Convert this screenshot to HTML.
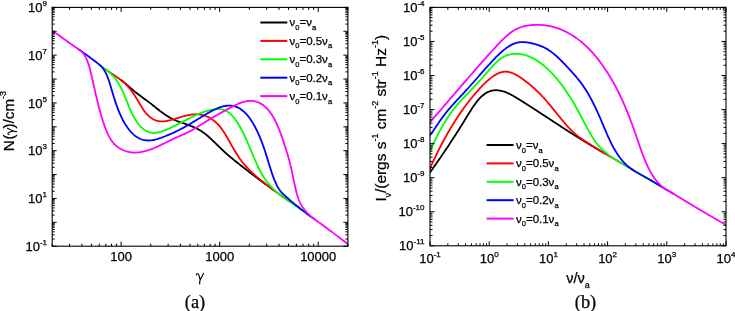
<!DOCTYPE html><html><head><meta charset="utf-8"><style>html,body{margin:0;padding:0;background:#fff;}svg{display:block;will-change:transform}text{font-family:"Liberation Sans",sans-serif;fill:#000;stroke:#000;stroke-width:0.25px}</style></head><body>
<svg width="735" height="311" viewBox="0 0 735 311">
<defs><clipPath id="cl"><rect x="52.20" y="6.40" width="295.70" height="239.80"/></clipPath>
<clipPath id="cr"><rect x="430.00" y="6.40" width="296.00" height="239.40"/></clipPath></defs>
<g clip-path="url(#cl)" fill="none" stroke-width="1.8" stroke-linejoin="round" stroke-linecap="round">
<path stroke="#000000" d="M121.20 80.24 L121.87 80.74 L122.53 81.26 L123.20 81.78 L123.87 82.32 L124.53 82.86 L125.20 83.41 L125.86 83.97 L126.53 84.53 L127.20 85.10 L127.86 85.68 L128.53 86.25 L129.20 86.83 L129.86 87.41 L130.53 87.98 L131.20 88.56 L131.86 89.13 L132.53 89.70 L133.19 90.27 L133.86 90.83 L134.53 91.38 L135.19 91.93 L135.86 92.47 L136.53 93.00 L137.19 93.52 L137.86 94.03 L138.53 94.54 L139.19 95.04 L139.86 95.54 L140.52 96.03 L141.19 96.52 L141.86 97.00 L142.52 97.49 L143.19 97.97 L143.86 98.45 L144.52 98.93 L145.19 99.41 L145.86 99.90 L146.52 100.38 L147.19 100.87 L147.86 101.36 L148.52 101.86 L149.19 102.36 L149.85 102.86 L150.52 103.37 L151.19 103.89 L151.85 104.42 L152.52 104.95 L153.19 105.49 L153.85 106.03 L154.52 106.57 L155.19 107.11 L155.85 107.65 L156.52 108.19 L157.18 108.73 L157.85 109.27 L158.52 109.80 L159.18 110.32 L159.85 110.84 L160.52 111.35 L161.18 111.85 L161.85 112.34 L162.52 112.83 L163.18 113.30 L163.85 113.77 L164.51 114.23 L165.18 114.68 L165.85 115.12 L166.51 115.56 L167.18 115.98 L167.85 116.39 L168.51 116.79 L169.18 117.18 L169.85 117.56 L170.51 117.93 L171.18 118.29 L171.84 118.64 L172.51 118.97 L173.18 119.29 L173.84 119.61 L174.51 119.91 L175.18 120.20 L175.84 120.49 L176.51 120.77 L177.18 121.03 L177.84 121.30 L178.51 121.55 L179.17 121.80 L179.84 122.05 L180.51 122.29 L181.17 122.53 L181.84 122.76 L182.51 122.99 L183.17 123.22 L183.84 123.45 L184.51 123.68 L185.17 123.91 L185.84 124.14 L186.50 124.37 L187.17 124.60 L187.84 124.83 L188.50 125.07 L189.17 125.31 L189.84 125.56 L190.50 125.81 L191.17 126.07 L191.84 126.33 L192.50 126.60 L193.17 126.88 L193.83 127.16 L194.50 127.46 L195.17 127.76 L195.83 128.07 L196.50 128.40 L197.17 128.73 L197.83 129.08 L198.50 129.44 L199.17 129.81 L199.83 130.20 L200.50 130.60 L201.17 131.02 L201.83 131.45 L202.50 131.90 L203.16 132.37 L203.83 132.85 L204.50 133.35 L205.16 133.86 L205.83 134.39 L206.50 134.93 L207.16 135.49 L207.83 136.06 L208.50 136.64 L209.16 137.23 L209.83 137.83 L210.49 138.43 L211.16 139.05 L211.83 139.68 L212.49 140.31 L213.16 140.94 L213.83 141.59 L214.49 142.23 L215.16 142.88 L215.83 143.53 L216.49 144.19 L217.16 144.84 L217.82 145.50 L218.49 146.15 L219.16 146.81 L219.82 147.46 L220.49 148.11 L221.16 148.75 L221.82 149.39 L222.49 150.02 L223.16 150.65 L223.82 151.27 L224.49 151.89 L225.15 152.49 L225.82 153.09 L226.49 153.69 L227.15 154.27 L227.82 154.86 L228.49 155.43 L229.15 156.00 L229.82 156.57 L230.49 157.13 L231.15 157.68 L231.82 158.24 L232.48 158.78 L233.15 159.33 L233.82 159.87 L234.48 160.41 L235.15 160.95 L235.82 161.49 L236.48 162.02 L237.15 162.55 L237.82 163.08 L238.48 163.61 L239.15 164.14 L239.81 164.67 L240.48 165.20 L241.15 165.72 L241.81 166.24 L242.48 166.77 L243.15 167.29 L243.81 167.81 L244.48 168.33 L245.15 168.84 L245.81 169.36 L246.48 169.88 L247.14 170.39 L247.81 170.90 L248.48 171.42 L249.14 171.93 L249.81 172.44 L250.48 172.95 L251.14 173.45 L251.81 173.96 L252.48 174.47 L253.14 174.97 L253.81 175.48 L254.48 175.98 L255.14 176.48 L255.81 176.98 L256.47 177.48 L257.14 177.98 L257.81 178.48 L258.47 178.98 L259.14 179.47 L259.81 179.97 L260.47 180.47 L261.14 180.96 L261.81 181.45 L262.47 181.95 L263.14 182.44 L263.80 182.93 L264.47 183.42 L265.14 183.91 L265.80 184.40 L266.47 184.89 L267.14 185.37 L267.80 185.86 L268.47 186.35 L269.14 186.83 L269.80 187.32 L270.47 187.80 L271.13 188.28 L271.80 188.77 L272.47 189.25 L273.13 189.73 L273.80 190.21"/>
<path stroke="#ff0000" d="M105.20 69.13 L105.87 69.60 L106.53 70.07 L107.20 70.54 L107.86 71.00 L108.53 71.45 L109.19 71.91 L109.86 72.36 L110.52 72.81 L111.19 73.26 L111.85 73.70 L112.52 74.15 L113.18 74.60 L113.85 75.05 L114.51 75.50 L115.18 75.95 L115.84 76.40 L116.51 76.86 L117.17 77.32 L117.84 77.79 L118.50 78.26 L119.17 78.74 L119.84 79.22 L120.50 79.71 L121.17 80.21 L121.83 80.72 L122.50 81.23 L123.16 81.76 L123.83 82.33 L124.49 82.93 L125.16 83.57 L125.82 84.25 L126.49 84.97 L127.15 85.68 L127.82 86.40 L128.48 87.14 L129.15 87.91 L129.81 88.71 L130.48 89.53 L131.14 90.39 L131.81 91.27 L132.47 92.19 L133.14 93.14 L133.81 94.12 L134.47 95.13 L135.14 96.18 L135.80 97.25 L136.47 98.34 L137.13 99.45 L137.80 100.57 L138.46 101.69 L139.13 102.82 L139.79 103.93 L140.46 105.04 L141.12 106.13 L141.79 107.19 L142.45 108.23 L143.12 109.24 L143.78 110.21 L144.45 111.13 L145.11 112.01 L145.78 112.84 L146.44 113.62 L147.11 114.36 L147.77 115.06 L148.44 115.71 L149.11 116.32 L149.77 116.89 L150.44 117.42 L151.10 117.91 L151.77 118.36 L152.43 118.78 L153.10 119.16 L153.76 119.51 L154.43 119.83 L155.09 120.11 L155.76 120.36 L156.42 120.58 L157.09 120.78 L157.75 120.94 L158.42 121.08 L159.08 121.19 L159.75 121.28 L160.41 121.34 L161.08 121.38 L161.74 121.40 L162.41 121.40 L163.08 121.38 L163.74 121.34 L164.41 121.28 L165.07 121.20 L165.74 121.11 L166.40 121.01 L167.07 120.89 L167.73 120.76 L168.40 120.62 L169.06 120.47 L169.73 120.31 L170.39 120.15 L171.06 119.97 L171.72 119.79 L172.39 119.60 L173.05 119.41 L173.72 119.22 L174.38 119.02 L175.05 118.83 L175.71 118.62 L176.38 118.42 L177.05 118.22 L177.71 118.02 L178.38 117.81 L179.04 117.61 L179.71 117.41 L180.37 117.21 L181.04 117.01 L181.70 116.81 L182.37 116.62 L183.03 116.44 L183.70 116.25 L184.36 116.07 L185.03 115.90 L185.69 115.73 L186.36 115.57 L187.02 115.42 L187.69 115.27 L188.35 115.13 L189.02 115.01 L189.68 114.88 L190.35 114.77 L191.02 114.67 L191.68 114.58 L192.35 114.51 L193.01 114.44 L193.68 114.38 L194.34 114.34 L195.01 114.31 L195.67 114.30 L196.34 114.30 L197.00 114.31 L197.67 114.34 L198.33 114.39 L199.00 114.45 L199.66 114.52 L200.33 114.62 L200.99 114.73 L201.66 114.85 L202.32 115.00 L202.99 115.16 L203.65 115.34 L204.32 115.54 L204.98 115.76 L205.65 116.00 L206.32 116.25 L206.98 116.53 L207.65 116.83 L208.31 117.14 L208.98 117.48 L209.64 117.84 L210.31 118.23 L210.97 118.63 L211.64 119.06 L212.30 119.51 L212.97 119.98 L213.63 120.48 L214.30 121.00 L214.96 121.55 L215.63 122.12 L216.29 122.71 L216.96 123.34 L217.62 124.00 L218.29 124.69 L218.95 125.42 L219.62 126.19 L220.29 127.00 L220.95 127.86 L221.62 128.76 L222.28 129.69 L222.95 130.67 L223.61 131.68 L224.28 132.72 L224.94 133.79 L225.61 134.88 L226.27 135.99 L226.94 137.13 L227.60 138.28 L228.27 139.44 L228.93 140.61 L229.60 141.78 L230.26 142.97 L230.93 144.15 L231.59 145.32 L232.26 146.50 L232.92 147.66 L233.59 148.81 L234.26 149.95 L234.92 151.07 L235.59 152.16 L236.25 153.24 L236.92 154.29 L237.58 155.31 L238.25 156.31 L238.91 157.29 L239.58 158.24 L240.24 159.18 L240.91 160.09 L241.57 160.98 L242.24 161.84 L242.90 162.69 L243.57 163.52 L244.23 164.33 L244.90 165.13 L245.56 165.90 L246.23 166.66 L246.89 167.40 L247.56 168.13 L248.23 168.84 L248.89 169.53 L249.56 170.21 L250.22 170.88 L250.89 171.54 L251.55 172.18 L252.22 172.81 L252.88 173.43 L253.55 174.04 L254.21 174.64 L254.88 175.23 L255.54 175.81 L256.21 176.38 L256.87 176.94 L257.54 177.50 L258.20 178.05 L258.87 178.60 L259.53 179.14 L260.20 179.67 L260.86 180.20 L261.53 180.73 L262.19 181.25 L262.86 181.77 L263.53 182.29 L264.19 182.81 L264.86 183.32 L265.52 183.84 L266.19 184.35 L266.85 184.86 L267.52 185.37 L268.18 185.88 L268.85 186.40 L269.51 186.93 L270.18 187.47 L270.84 188.00 L271.51 188.52 L272.17 189.03 L272.84 189.52 L273.50 190.00 L274.17 190.48 L274.83 190.96 L275.50 191.44 L276.16 191.92 L276.83 192.39 L277.50 192.87 L278.16 193.35 L278.83 193.83 L279.49 194.30 L280.16 194.78 L280.82 195.25 L281.49 195.73 L282.15 196.20 L282.82 196.68 L283.48 197.15 L284.15 197.63 L284.81 198.10 L285.48 198.58 L286.14 199.05 L286.81 199.52 L287.47 199.99 L288.14 200.47 L288.80 200.94 L289.47 201.41 L290.13 201.88 L290.80 202.36"/>
<path stroke="#00ff00" d="M99.20 64.54 L99.87 65.08 L100.53 65.61 L101.20 66.14 L101.87 66.65 L102.53 67.16 L103.20 67.67 L103.87 68.16 L104.53 68.65 L105.20 69.13 L105.86 69.60 L106.53 70.07 L107.20 70.53 L107.86 71.00 L108.53 71.52 L109.20 72.08 L109.86 72.68 L110.53 73.29 L111.20 73.92 L111.86 74.58 L112.53 75.28 L113.20 76.01 L113.86 76.78 L114.53 77.59 L115.19 78.44 L115.86 79.33 L116.53 80.27 L117.19 81.26 L117.86 82.30 L118.53 83.40 L119.19 84.54 L119.86 85.75 L120.53 87.02 L121.19 88.34 L121.86 89.73 L122.53 91.18 L123.19 92.68 L123.86 94.23 L124.53 95.80 L125.19 97.40 L125.86 99.02 L126.52 100.65 L127.19 102.28 L127.86 103.90 L128.52 105.51 L129.19 107.10 L129.86 108.66 L130.52 110.18 L131.19 111.65 L131.86 113.06 L132.52 114.42 L133.19 115.72 L133.86 116.96 L134.52 118.15 L135.19 119.28 L135.86 120.36 L136.52 121.38 L137.19 122.36 L137.85 123.28 L138.52 124.15 L139.19 124.97 L139.85 125.75 L140.52 126.47 L141.19 127.16 L141.85 127.79 L142.52 128.39 L143.19 128.94 L143.85 129.45 L144.52 129.92 L145.19 130.35 L145.85 130.74 L146.52 131.10 L147.18 131.42 L147.85 131.70 L148.52 131.95 L149.18 132.17 L149.85 132.35 L150.52 132.50 L151.18 132.63 L151.85 132.72 L152.52 132.79 L153.18 132.83 L153.85 132.84 L154.52 132.83 L155.18 132.80 L155.85 132.74 L156.52 132.66 L157.18 132.56 L157.85 132.44 L158.51 132.31 L159.18 132.15 L159.85 131.98 L160.51 131.80 L161.18 131.60 L161.85 131.38 L162.51 131.16 L163.18 130.92 L163.85 130.67 L164.51 130.42 L165.18 130.15 L165.85 129.88 L166.51 129.61 L167.18 129.33 L167.84 129.04 L168.51 128.75 L169.18 128.45 L169.84 128.15 L170.51 127.84 L171.18 127.53 L171.84 127.22 L172.51 126.90 L173.18 126.58 L173.84 126.25 L174.51 125.92 L175.18 125.59 L175.84 125.26 L176.51 124.92 L177.18 124.59 L177.84 124.25 L178.51 123.90 L179.17 123.56 L179.84 123.22 L180.51 122.87 L181.17 122.53 L181.84 122.18 L182.51 121.83 L183.17 121.49 L183.84 121.14 L184.51 120.79 L185.17 120.45 L185.84 120.10 L186.51 119.76 L187.17 119.42 L187.84 119.08 L188.51 118.74 L189.17 118.40 L189.84 118.06 L190.50 117.73 L191.17 117.40 L191.84 117.07 L192.50 116.75 L193.17 116.43 L193.84 116.11 L194.50 115.80 L195.17 115.49 L195.84 115.18 L196.50 114.88 L197.17 114.58 L197.84 114.29 L198.50 114.01 L199.17 113.73 L199.83 113.45 L200.50 113.18 L201.17 112.92 L201.83 112.66 L202.50 112.41 L203.17 112.17 L203.83 111.93 L204.50 111.70 L205.17 111.48 L205.83 111.26 L206.50 111.06 L207.17 110.86 L207.83 110.67 L208.50 110.49 L209.17 110.31 L209.83 110.15 L210.50 110.00 L211.16 109.85 L211.83 109.71 L212.50 109.59 L213.16 109.47 L213.83 109.37 L214.50 109.28 L215.16 109.20 L215.83 109.14 L216.50 109.09 L217.16 109.06 L217.83 109.05 L218.50 109.05 L219.16 109.08 L219.83 109.13 L220.49 109.21 L221.16 109.31 L221.83 109.43 L222.49 109.58 L223.16 109.76 L223.83 109.97 L224.49 110.21 L225.16 110.49 L225.83 110.79 L226.49 111.13 L227.16 111.51 L227.83 111.92 L228.49 112.38 L229.16 112.87 L229.83 113.40 L230.49 113.97 L231.16 114.59 L231.82 115.25 L232.49 115.96 L233.16 116.71 L233.82 117.50 L234.49 118.34 L235.16 119.23 L235.82 120.15 L236.49 121.12 L237.16 122.13 L237.82 123.17 L238.49 124.26 L239.16 125.38 L239.82 126.54 L240.49 127.73 L241.16 128.96 L241.82 130.23 L242.49 131.53 L243.15 132.86 L243.82 134.22 L244.49 135.62 L245.15 137.04 L245.82 138.50 L246.49 139.98 L247.15 141.49 L247.82 143.02 L248.49 144.58 L249.15 146.14 L249.82 147.73 L250.49 149.31 L251.15 150.91 L251.82 152.50 L252.48 154.09 L253.15 155.68 L253.82 157.25 L254.48 158.81 L255.15 160.35 L255.82 161.87 L256.48 163.36 L257.15 164.82 L257.82 166.25 L258.48 167.64 L259.15 168.98 L259.82 170.29 L260.48 171.55 L261.15 172.76 L261.82 173.93 L262.48 175.06 L263.15 176.15 L263.81 177.21 L264.48 178.22 L265.15 179.20 L265.81 180.15 L266.48 181.06 L267.15 181.94 L267.81 182.80 L268.48 183.62 L269.15 184.42 L269.81 185.19 L270.48 185.93 L271.15 186.65 L271.81 187.35 L272.48 188.03 L273.14 188.70 L273.81 189.34 L274.48 189.97 L275.14 190.58 L275.81 191.17 L276.48 191.75 L277.14 192.32 L277.81 192.88 L278.48 193.42 L279.14 193.95 L279.81 194.48 L280.48 194.99 L281.14 195.49 L281.81 195.99 L282.48 196.48 L283.14 196.96 L283.81 197.44 L284.47 197.92 L285.14 198.39 L285.81 198.85 L286.47 199.32 L287.14 199.78 L287.81 200.24 L288.47 200.71 L289.14 201.18 L289.81 201.65 L290.47 202.12 L291.14 202.60 L291.81 203.07 L292.47 203.54 L293.14 204.01 L293.81 204.49 L294.47 204.96 L295.14 205.43 L295.80 205.90 L296.47 206.38 L297.14 206.85 L297.80 207.32 L298.47 207.79 L299.14 208.27 L299.80 208.74 L300.47 209.21 L301.14 209.69 L301.80 210.16 L302.47 210.63 L303.14 211.11 L303.80 211.58 L304.47 212.05 L305.13 212.53 L305.80 213.00 L306.47 213.48 L307.13 213.95 L307.80 214.43 L308.47 214.90 L309.13 215.38 L309.80 215.85"/>
<path stroke="#0000ff" d="M78.70 49.39 L79.37 49.86 L80.03 50.33 L80.70 50.80 L81.36 51.27 L82.03 51.74 L82.69 52.21 L83.36 52.68 L84.02 53.16 L84.69 53.63 L85.36 54.11 L86.02 54.59 L86.69 55.07 L87.35 55.55 L88.02 56.03 L88.68 56.51 L89.35 56.99 L90.01 57.48 L90.68 57.97 L91.35 58.46 L92.01 58.95 L92.68 59.44 L93.34 59.94 L94.01 60.44 L94.67 60.95 L95.34 61.47 L96.00 61.98 L96.67 62.51 L97.34 63.04 L98.00 63.58 L98.67 64.11 L99.33 64.65 L100.00 65.18 L100.66 65.70 L101.33 66.28 L101.99 67.00 L102.66 67.89 L103.32 68.83 L103.99 69.83 L104.66 70.93 L105.32 72.13 L105.99 73.45 L106.65 74.89 L107.32 76.46 L107.98 78.16 L108.65 80.02 L109.31 82.00 L109.98 84.08 L110.65 86.23 L111.31 88.45 L111.98 90.70 L112.64 92.95 L113.31 95.20 L113.97 97.40 L114.64 99.55 L115.30 101.61 L115.97 103.60 L116.64 105.51 L117.30 107.35 L117.97 109.11 L118.63 110.80 L119.30 112.42 L119.96 113.97 L120.63 115.46 L121.29 116.89 L121.96 118.26 L122.63 119.57 L123.29 120.82 L123.96 122.03 L124.62 123.18 L125.29 124.28 L125.95 125.33 L126.62 126.34 L127.28 127.31 L127.95 128.24 L128.62 129.12 L129.28 129.97 L129.95 130.78 L130.61 131.55 L131.28 132.28 L131.94 132.98 L132.61 133.64 L133.27 134.26 L133.94 134.85 L134.61 135.41 L135.27 135.93 L135.94 136.42 L136.60 136.88 L137.27 137.31 L137.93 137.71 L138.60 138.07 L139.26 138.41 L139.93 138.72 L140.59 139.01 L141.26 139.26 L141.93 139.49 L142.59 139.69 L143.26 139.87 L143.92 140.02 L144.59 140.16 L145.25 140.26 L145.92 140.35 L146.58 140.41 L147.25 140.45 L147.92 140.48 L148.58 140.48 L149.25 140.47 L149.91 140.43 L150.58 140.38 L151.24 140.31 L151.91 140.23 L152.57 140.13 L153.24 140.02 L153.91 139.89 L154.57 139.75 L155.24 139.60 L155.90 139.43 L156.57 139.25 L157.23 139.07 L157.90 138.87 L158.56 138.67 L159.23 138.45 L159.90 138.23 L160.56 138.00 L161.23 137.77 L161.89 137.52 L162.56 137.28 L163.22 137.03 L163.89 136.77 L164.55 136.52 L165.22 136.26 L165.89 135.99 L166.55 135.72 L167.22 135.45 L167.88 135.18 L168.55 134.90 L169.21 134.62 L169.88 134.33 L170.54 134.04 L171.21 133.75 L171.88 133.45 L172.54 133.15 L173.21 132.85 L173.87 132.54 L174.54 132.23 L175.20 131.91 L175.87 131.59 L176.53 131.27 L177.20 130.95 L177.86 130.62 L178.53 130.28 L179.20 129.94 L179.86 129.60 L180.53 129.26 L181.19 128.91 L181.86 128.56 L182.52 128.20 L183.19 127.84 L183.85 127.48 L184.52 127.11 L185.19 126.74 L185.85 126.37 L186.52 125.99 L187.18 125.61 L187.85 125.22 L188.51 124.83 L189.18 124.44 L189.84 124.04 L190.51 123.64 L191.18 123.24 L191.84 122.83 L192.51 122.43 L193.17 122.02 L193.84 121.61 L194.50 121.20 L195.17 120.79 L195.83 120.38 L196.50 119.96 L197.17 119.55 L197.83 119.14 L198.50 118.72 L199.16 118.31 L199.83 117.90 L200.49 117.49 L201.16 117.08 L201.82 116.68 L202.49 116.27 L203.16 115.87 L203.82 115.47 L204.49 115.07 L205.15 114.68 L205.82 114.29 L206.48 113.90 L207.15 113.52 L207.81 113.14 L208.48 112.76 L209.15 112.39 L209.81 112.03 L210.48 111.67 L211.14 111.31 L211.81 110.96 L212.47 110.62 L213.14 110.28 L213.80 109.96 L214.47 109.63 L215.14 109.32 L215.80 109.01 L216.47 108.71 L217.13 108.43 L217.80 108.15 L218.46 107.88 L219.13 107.63 L219.79 107.39 L220.46 107.16 L221.12 106.94 L221.79 106.74 L222.46 106.55 L223.12 106.37 L223.79 106.21 L224.45 106.07 L225.12 105.94 L225.78 105.84 L226.45 105.75 L227.11 105.67 L227.78 105.62 L228.45 105.59 L229.11 105.57 L229.78 105.58 L230.44 105.61 L231.11 105.66 L231.77 105.73 L232.44 105.83 L233.10 105.94 L233.77 106.09 L234.44 106.26 L235.10 106.45 L235.77 106.67 L236.43 106.92 L237.10 107.19 L237.76 107.49 L238.43 107.82 L239.09 108.18 L239.76 108.57 L240.43 108.99 L241.09 109.43 L241.76 109.91 L242.42 110.43 L243.09 110.97 L243.75 111.55 L244.42 112.16 L245.08 112.80 L245.75 113.48 L246.42 114.20 L247.08 114.95 L247.75 115.73 L248.41 116.56 L249.08 117.42 L249.74 118.32 L250.41 119.26 L251.07 120.24 L251.74 121.26 L252.41 122.31 L253.07 123.41 L253.74 124.56 L254.40 125.74 L255.07 126.97 L255.73 128.24 L256.40 129.55 L257.06 130.92 L257.73 132.33 L258.39 133.78 L259.06 135.29 L259.73 136.85 L260.39 138.47 L261.06 140.13 L261.72 141.85 L262.39 143.63 L263.05 145.46 L263.72 147.35 L264.38 149.31 L265.05 151.32 L265.72 153.38 L266.38 155.48 L267.05 157.61 L267.71 159.76 L268.38 161.91 L269.04 164.06 L269.71 166.20 L270.37 168.31 L271.04 170.38 L271.71 172.41 L272.37 174.37 L273.04 176.27 L273.70 178.09 L274.37 179.82 L275.03 181.45 L275.70 182.97 L276.36 184.39 L277.03 185.72 L277.70 186.95 L278.36 188.09 L279.03 189.14 L279.69 190.10 L280.36 190.99 L281.02 191.81 L281.69 192.56 L282.35 193.26 L283.02 193.92 L283.69 194.56 L284.35 195.18 L285.02 195.80 L285.68 196.41 L286.35 197.01 L287.01 197.61 L287.68 198.21 L288.34 198.79 L289.01 199.38 L289.68 199.95 L290.34 200.52 L291.01 201.09 L291.67 201.65 L292.34 202.21 L293.00 202.76 L293.67 203.31 L294.33 203.85 L295.00 204.39 L295.66 204.93 L296.33 205.46 L297.00 205.99 L297.66 206.52 L298.33 207.04 L298.99 207.56 L299.66 208.08 L300.32 208.60 L300.99 209.11 L301.65 209.62 L302.32 210.13 L302.99 210.63 L303.65 211.14 L304.32 211.64 L304.98 212.14 L305.65 212.64 L306.31 213.15 L306.98 213.69 L307.64 214.24 L308.31 214.77 L308.98 215.26 L309.64 215.74 L310.31 216.22 L310.97 216.69 L311.64 217.17 L312.30 217.64 L312.97 218.12 L313.63 218.60 L314.30 219.08"/>
<path stroke="#ff00ff" d="M52.20 30.40 L52.87 30.90 L53.53 31.40 L54.20 31.90 L54.86 32.39 L55.53 32.89 L56.20 33.38 L56.86 33.87 L57.53 34.36 L58.19 34.84 L58.86 35.33 L59.52 35.81 L60.19 36.29 L60.86 36.77 L61.52 37.25 L62.19 37.73 L62.85 38.21 L63.52 38.68 L64.19 39.16 L64.85 39.63 L65.52 40.10 L66.18 40.58 L66.85 41.05 L67.51 41.52 L68.18 41.99 L68.85 42.46 L69.51 42.93 L70.18 43.40 L70.84 43.87 L71.51 44.33 L72.18 44.80 L72.84 45.27 L73.51 45.74 L74.17 46.20 L74.84 46.67 L75.50 47.14 L76.17 47.61 L76.84 48.07 L77.50 48.54 L78.17 49.01 L78.83 49.48 L79.50 49.95 L80.17 50.39 L80.83 50.85 L81.50 51.45 L82.16 52.14 L82.83 52.88 L83.49 53.70 L84.16 54.62 L84.83 55.66 L85.49 56.83 L86.16 58.14 L86.82 59.63 L87.49 61.29 L88.16 63.16 L88.82 65.25 L89.49 67.55 L90.15 70.03 L90.82 72.67 L91.48 75.43 L92.15 78.29 L92.82 81.23 L93.48 84.20 L94.15 87.19 L94.81 90.16 L95.48 93.09 L96.15 95.96 L96.81 98.76 L97.48 101.49 L98.14 104.16 L98.81 106.76 L99.47 109.28 L100.14 111.73 L100.81 114.11 L101.47 116.40 L102.14 118.62 L102.80 120.75 L103.47 122.79 L104.14 124.75 L104.80 126.62 L105.47 128.41 L106.13 130.09 L106.80 131.69 L107.46 133.18 L108.13 134.59 L108.80 135.92 L109.46 137.16 L110.13 138.32 L110.79 139.40 L111.46 140.41 L112.13 141.35 L112.79 142.23 L113.46 143.05 L114.12 143.80 L114.79 144.51 L115.46 145.16 L116.12 145.76 L116.79 146.32 L117.45 146.84 L118.12 147.33 L118.78 147.78 L119.45 148.20 L120.12 148.59 L120.78 148.96 L121.45 149.31 L122.11 149.64 L122.78 149.96 L123.45 150.25 L124.11 150.52 L124.78 150.78 L125.44 151.01 L126.11 151.23 L126.77 151.43 L127.44 151.62 L128.11 151.78 L128.77 151.93 L129.44 152.07 L130.10 152.19 L130.77 152.29 L131.44 152.37 L132.10 152.44 L132.77 152.50 L133.43 152.54 L134.10 152.56 L134.76 152.58 L135.43 152.57 L136.10 152.56 L136.76 152.53 L137.43 152.49 L138.09 152.43 L138.76 152.36 L139.43 152.28 L140.09 152.19 L140.76 152.09 L141.42 151.98 L142.09 151.85 L142.75 151.71 L143.42 151.57 L144.09 151.41 L144.75 151.25 L145.42 151.07 L146.08 150.88 L146.75 150.69 L147.42 150.49 L148.08 150.28 L148.75 150.06 L149.41 149.83 L150.08 149.59 L150.74 149.35 L151.41 149.10 L152.08 148.85 L152.74 148.59 L153.41 148.32 L154.07 148.04 L154.74 147.77 L155.41 147.48 L156.07 147.19 L156.74 146.90 L157.40 146.60 L158.07 146.30 L158.73 145.99 L159.40 145.68 L160.07 145.37 L160.73 145.05 L161.40 144.74 L162.06 144.42 L162.73 144.09 L163.40 143.77 L164.06 143.44 L164.73 143.12 L165.39 142.79 L166.06 142.46 L166.72 142.13 L167.39 141.81 L168.06 141.48 L168.72 141.15 L169.39 140.83 L170.05 140.50 L170.72 140.18 L171.39 139.86 L172.05 139.54 L172.72 139.22 L173.38 138.90 L174.05 138.59 L174.72 138.28 L175.38 137.98 L176.05 137.68 L176.71 137.38 L177.38 137.08 L178.04 136.79 L178.71 136.49 L179.38 136.20 L180.04 135.91 L180.71 135.62 L181.37 135.32 L182.04 135.03 L182.71 134.73 L183.37 134.43 L184.04 134.13 L184.70 133.82 L185.37 133.52 L186.03 133.20 L186.70 132.88 L187.37 132.56 L188.03 132.23 L188.70 131.89 L189.36 131.55 L190.03 131.20 L190.70 130.84 L191.36 130.48 L192.03 130.10 L192.69 129.72 L193.36 129.34 L194.02 128.95 L194.69 128.55 L195.36 128.15 L196.02 127.74 L196.69 127.34 L197.35 126.92 L198.02 126.51 L198.69 126.09 L199.35 125.67 L200.02 125.25 L200.68 124.83 L201.35 124.41 L202.01 123.98 L202.68 123.56 L203.35 123.14 L204.01 122.72 L204.68 122.30 L205.34 121.89 L206.01 121.48 L206.68 121.07 L207.34 120.66 L208.01 120.26 L208.67 119.86 L209.34 119.46 L210.00 119.06 L210.67 118.66 L211.34 118.27 L212.00 117.88 L212.67 117.50 L213.33 117.11 L214.00 116.73 L214.67 116.34 L215.33 115.96 L216.00 115.59 L216.66 115.21 L217.33 114.83 L217.99 114.46 L218.66 114.09 L219.33 113.72 L219.99 113.35 L220.66 112.98 L221.32 112.61 L221.99 112.25 L222.66 111.88 L223.32 111.52 L223.99 111.15 L224.65 110.79 L225.32 110.43 L225.98 110.07 L226.65 109.71 L227.32 109.35 L227.98 108.99 L228.65 108.63 L229.31 108.27 L229.98 107.91 L230.65 107.56 L231.31 107.20 L231.98 106.85 L232.64 106.51 L233.31 106.17 L233.98 105.83 L234.64 105.50 L235.31 105.18 L235.97 104.86 L236.64 104.55 L237.30 104.25 L237.97 103.95 L238.64 103.67 L239.30 103.39 L239.97 103.13 L240.63 102.88 L241.30 102.64 L241.97 102.41 L242.63 102.19 L243.30 101.99 L243.96 101.80 L244.63 101.63 L245.29 101.47 L245.96 101.33 L246.63 101.21 L247.29 101.10 L247.96 101.01 L248.62 100.94 L249.29 100.89 L249.96 100.85 L250.62 100.84 L251.29 100.85 L251.95 100.88 L252.62 100.94 L253.28 101.01 L253.95 101.11 L254.62 101.23 L255.28 101.38 L255.95 101.55 L256.61 101.75 L257.28 101.98 L257.95 102.23 L258.61 102.51 L259.28 102.82 L259.94 103.16 L260.61 103.52 L261.27 103.92 L261.94 104.35 L262.61 104.81 L263.27 105.30 L263.94 105.83 L264.60 106.38 L265.27 106.97 L265.94 107.60 L266.60 108.26 L267.27 108.96 L267.93 109.69 L268.60 110.46 L269.26 111.27 L269.93 112.12 L270.60 113.02 L271.26 113.97 L271.93 114.97 L272.59 116.02 L273.26 117.12 L273.93 118.28 L274.59 119.50 L275.26 120.79 L275.92 122.13 L276.59 123.55 L277.25 125.04 L277.92 126.59 L278.59 128.20 L279.25 129.88 L279.92 131.61 L280.58 133.39 L281.25 135.22 L281.92 137.10 L282.58 139.01 L283.25 140.97 L283.91 142.95 L284.58 144.97 L285.24 147.01 L285.91 149.08 L286.58 151.18 L287.24 153.34 L287.91 155.57 L288.57 157.89 L289.24 160.32 L289.91 162.88 L290.57 165.59 L291.24 168.46 L291.90 171.50 L292.57 174.66 L293.24 177.87 L293.90 181.08 L294.57 184.22 L295.23 187.24 L295.90 190.07 L296.56 192.65 L297.23 194.99 L297.90 197.11 L298.56 199.02 L299.23 200.73 L299.89 202.28 L300.56 203.66 L301.23 204.91 L301.89 206.05 L302.56 207.08 L303.22 208.02 L303.89 208.90 L304.55 209.73 L305.22 210.53 L305.89 211.30 L306.55 212.05 L307.22 212.77 L307.88 213.47 L308.55 214.15 L309.22 214.81 L309.88 215.44 L310.55 216.06 L311.21 216.67 L311.88 217.27 L312.54 217.82 L313.21 218.30 L313.88 218.77 L314.54 219.25 L315.21 219.73 L315.87 220.21 L316.54 220.69 L317.21 221.17 L317.87 221.65 L318.54 222.13 L319.20 222.61 L319.87 223.10 L320.53 223.58 L321.20 224.06 L321.87 224.55 L322.53 225.03 L323.20 225.52 L323.86 226.00 L324.53 226.49 L325.20 226.98 L325.86 227.47 L326.53 227.96 L327.19 228.45 L327.86 228.94 L328.52 229.43 L329.19 229.92 L329.86 230.41 L330.52 230.91 L331.19 231.40 L331.85 231.90 L332.52 232.39 L333.19 232.89 L333.85 233.39 L334.52 233.89 L335.18 234.39 L335.85 234.89 L336.51 235.39 L337.18 235.90 L337.85 236.40 L338.51 236.91 L339.18 237.41 L339.84 237.92 L340.51 238.43 L341.18 238.94 L341.84 239.45 L342.51 239.96 L343.17 240.47 L343.84 240.99 L344.50 241.50 L345.17 242.02 L345.84 242.54 L346.50 243.05 L347.17 243.57 L347.83 244.10 L348.50 244.62"/>
</g>
<rect x="52.2" y="7.4" width="295.70" height="238.80" fill="none" stroke="#000" stroke-width="1.1"/>
<path d="M52.20 246.20v-2.5M52.20 7.40v2.5M69.56 246.20v-2.5M69.56 7.40v2.5M81.87 246.20v-2.5M81.87 7.40v2.5M91.42 246.20v-2.5M91.42 7.40v2.5M99.23 246.20v-2.5M99.23 7.40v2.5M105.83 246.20v-2.5M105.83 7.40v2.5M111.54 246.20v-2.5M111.54 7.40v2.5M116.58 246.20v-2.5M116.58 7.40v2.5M121.10 246.20v-4.5M121.10 7.40v4.5M150.77 246.20v-2.5M150.77 7.40v2.5M168.12 246.20v-2.5M168.12 7.40v2.5M180.44 246.20v-2.5M180.44 7.40v2.5M189.99 246.20v-2.5M189.99 7.40v2.5M197.79 246.20v-2.5M197.79 7.40v2.5M204.39 246.20v-2.5M204.39 7.40v2.5M210.11 246.20v-2.5M210.11 7.40v2.5M215.15 246.20v-2.5M215.15 7.40v2.5M219.66 246.20v-4.5M219.66 7.40v4.5M249.33 246.20v-2.5M249.33 7.40v2.5M266.69 246.20v-2.5M266.69 7.40v2.5M279.00 246.20v-2.5M279.00 7.40v2.5M288.56 246.20v-2.5M288.56 7.40v2.5M296.36 246.20v-2.5M296.36 7.40v2.5M302.96 246.20v-2.5M302.96 7.40v2.5M308.68 246.20v-2.5M308.68 7.40v2.5M313.72 246.20v-2.5M313.72 7.40v2.5M318.23 246.20v-4.5M318.23 7.40v4.5M347.90 246.20v-2.5M347.90 7.40v2.5M52.20 246.20h4.5M347.90 246.20h-4.5M52.20 239.01h2.5M347.90 239.01h-2.5M52.20 234.81h2.5M347.90 234.81h-2.5M52.20 231.82h2.5M347.90 231.82h-2.5M52.20 229.51h2.5M347.90 229.51h-2.5M52.20 227.62h2.5M347.90 227.62h-2.5M52.20 226.02h2.5M347.90 226.02h-2.5M52.20 224.63h2.5M347.90 224.63h-2.5M52.20 223.41h2.5M347.90 223.41h-2.5M52.20 222.32h4.5M347.90 222.32h-4.5M52.20 215.13h2.5M347.90 215.13h-2.5M52.20 210.93h2.5M347.90 210.93h-2.5M52.20 207.94h2.5M347.90 207.94h-2.5M52.20 205.63h2.5M347.90 205.63h-2.5M52.20 203.74h2.5M347.90 203.74h-2.5M52.20 202.14h2.5M347.90 202.14h-2.5M52.20 200.75h2.5M347.90 200.75h-2.5M52.20 199.53h2.5M347.90 199.53h-2.5M52.20 198.44h4.5M347.90 198.44h-4.5M52.20 191.25h2.5M347.90 191.25h-2.5M52.20 187.05h2.5M347.90 187.05h-2.5M52.20 184.06h2.5M347.90 184.06h-2.5M52.20 181.75h2.5M347.90 181.75h-2.5M52.20 179.86h2.5M347.90 179.86h-2.5M52.20 178.26h2.5M347.90 178.26h-2.5M52.20 176.87h2.5M347.90 176.87h-2.5M52.20 175.65h2.5M347.90 175.65h-2.5M52.20 174.56h4.5M347.90 174.56h-4.5M52.20 167.37h2.5M347.90 167.37h-2.5M52.20 163.17h2.5M347.90 163.17h-2.5M52.20 160.18h2.5M347.90 160.18h-2.5M52.20 157.87h2.5M347.90 157.87h-2.5M52.20 155.98h2.5M347.90 155.98h-2.5M52.20 154.38h2.5M347.90 154.38h-2.5M52.20 152.99h2.5M347.90 152.99h-2.5M52.20 151.77h2.5M347.90 151.77h-2.5M52.20 150.68h4.5M347.90 150.68h-4.5M52.20 143.49h2.5M347.90 143.49h-2.5M52.20 139.29h2.5M347.90 139.29h-2.5M52.20 136.30h2.5M347.90 136.30h-2.5M52.20 133.99h2.5M347.90 133.99h-2.5M52.20 132.10h2.5M347.90 132.10h-2.5M52.20 130.50h2.5M347.90 130.50h-2.5M52.20 129.11h2.5M347.90 129.11h-2.5M52.20 127.89h2.5M347.90 127.89h-2.5M52.20 126.80h4.5M347.90 126.80h-4.5M52.20 119.61h2.5M347.90 119.61h-2.5M52.20 115.41h2.5M347.90 115.41h-2.5M52.20 112.42h2.5M347.90 112.42h-2.5M52.20 110.11h2.5M347.90 110.11h-2.5M52.20 108.22h2.5M347.90 108.22h-2.5M52.20 106.62h2.5M347.90 106.62h-2.5M52.20 105.23h2.5M347.90 105.23h-2.5M52.20 104.01h2.5M347.90 104.01h-2.5M52.20 102.92h4.5M347.90 102.92h-4.5M52.20 95.73h2.5M347.90 95.73h-2.5M52.20 91.53h2.5M347.90 91.53h-2.5M52.20 88.54h2.5M347.90 88.54h-2.5M52.20 86.23h2.5M347.90 86.23h-2.5M52.20 84.34h2.5M347.90 84.34h-2.5M52.20 82.74h2.5M347.90 82.74h-2.5M52.20 81.35h2.5M347.90 81.35h-2.5M52.20 80.13h2.5M347.90 80.13h-2.5M52.20 79.04h4.5M347.90 79.04h-4.5M52.20 71.85h2.5M347.90 71.85h-2.5M52.20 67.65h2.5M347.90 67.65h-2.5M52.20 64.66h2.5M347.90 64.66h-2.5M52.20 62.35h2.5M347.90 62.35h-2.5M52.20 60.46h2.5M347.90 60.46h-2.5M52.20 58.86h2.5M347.90 58.86h-2.5M52.20 57.47h2.5M347.90 57.47h-2.5M52.20 56.25h2.5M347.90 56.25h-2.5M52.20 55.16h4.5M347.90 55.16h-4.5M52.20 47.97h2.5M347.90 47.97h-2.5M52.20 43.77h2.5M347.90 43.77h-2.5M52.20 40.78h2.5M347.90 40.78h-2.5M52.20 38.47h2.5M347.90 38.47h-2.5M52.20 36.58h2.5M347.90 36.58h-2.5M52.20 34.98h2.5M347.90 34.98h-2.5M52.20 33.59h2.5M347.90 33.59h-2.5M52.20 32.37h2.5M347.90 32.37h-2.5M52.20 31.28h4.5M347.90 31.28h-4.5M52.20 24.09h2.5M347.90 24.09h-2.5M52.20 19.89h2.5M347.90 19.89h-2.5M52.20 16.90h2.5M347.90 16.90h-2.5M52.20 14.59h2.5M347.90 14.59h-2.5M52.20 12.70h2.5M347.90 12.70h-2.5M52.20 11.10h2.5M347.90 11.10h-2.5M52.20 9.71h2.5M347.90 9.71h-2.5M52.20 8.49h2.5M347.90 8.49h-2.5M52.20 7.40h4.5M347.90 7.40h-4.5" stroke="#000" stroke-width="1" fill="none"/>
<g clip-path="url(#cr)" fill="none" stroke-width="1.8" stroke-linejoin="round" stroke-linecap="round">
<path stroke="#000000" d="M429.00 173.88 L429.67 172.95 L430.33 172.00 L431.00 171.06 L431.66 170.12 L432.33 169.17 L433.00 168.23 L433.66 167.28 L434.33 166.33 L434.99 165.38 L435.66 164.42 L436.32 163.47 L436.99 162.51 L437.66 161.55 L438.32 160.59 L438.99 159.63 L439.65 158.66 L440.32 157.69 L440.99 156.72 L441.65 155.75 L442.32 154.77 L442.98 153.80 L443.65 152.82 L444.32 151.83 L444.98 150.85 L445.65 149.86 L446.31 148.87 L446.98 147.88 L447.65 146.88 L448.31 145.88 L448.98 144.88 L449.64 143.87 L450.31 142.87 L450.98 141.86 L451.64 140.84 L452.31 139.82 L452.97 138.80 L453.64 137.78 L454.30 136.75 L454.97 135.72 L455.64 134.69 L456.30 133.65 L456.97 132.61 L457.63 131.57 L458.30 130.52 L458.97 129.47 L459.63 128.41 L460.30 127.35 L460.96 126.29 L461.63 125.22 L462.30 124.15 L462.96 123.07 L463.63 121.99 L464.29 120.91 L464.96 119.82 L465.62 118.73 L466.29 117.64 L466.96 116.55 L467.62 115.46 L468.29 114.38 L468.95 113.30 L469.62 112.23 L470.29 111.18 L470.95 110.13 L471.62 109.09 L472.28 108.07 L472.95 107.07 L473.62 106.09 L474.28 105.12 L474.95 104.18 L475.61 103.26 L476.28 102.37 L476.95 101.51 L477.61 100.67 L478.28 99.87 L478.94 99.10 L479.61 98.36 L480.27 97.66 L480.94 96.99 L481.61 96.36 L482.27 95.77 L482.94 95.21 L483.60 94.68 L484.27 94.18 L484.94 93.72 L485.60 93.29 L486.27 92.89 L486.93 92.52 L487.60 92.18 L488.27 91.87 L488.93 91.59 L489.60 91.33 L490.26 91.11 L490.93 90.91 L491.60 90.74 L492.26 90.59 L492.93 90.47 L493.59 90.37 L494.26 90.30 L494.92 90.25 L495.59 90.22 L496.26 90.22 L496.92 90.24 L497.59 90.28 L498.25 90.34 L498.92 90.42 L499.59 90.52 L500.25 90.64 L500.92 90.77 L501.58 90.93 L502.25 91.10 L502.92 91.29 L503.58 91.49 L504.25 91.71 L504.91 91.95 L505.58 92.20 L506.25 92.46 L506.91 92.73 L507.58 93.02 L508.24 93.32 L508.91 93.64 L509.57 93.96 L510.24 94.29 L510.91 94.63 L511.57 94.98 L512.24 95.34 L512.90 95.71 L513.57 96.09 L514.24 96.47 L514.90 96.86 L515.57 97.25 L516.23 97.65 L516.90 98.05 L517.57 98.46 L518.23 98.87 L518.90 99.28 L519.56 99.69 L520.23 100.11 L520.90 100.53 L521.56 100.95 L522.23 101.37 L522.89 101.79 L523.56 102.21 L524.23 102.63 L524.89 103.05 L525.56 103.47 L526.22 103.90 L526.89 104.32 L527.55 104.75 L528.22 105.17 L528.89 105.60 L529.55 106.03 L530.22 106.46 L530.88 106.89 L531.55 107.32 L532.22 107.75 L532.88 108.18 L533.55 108.61 L534.21 109.04 L534.88 109.47 L535.55 109.90 L536.21 110.34 L536.88 110.77 L537.54 111.20 L538.21 111.64 L538.88 112.07 L539.54 112.51 L540.21 112.94 L540.87 113.38 L541.54 113.81 L542.20 114.25 L542.87 114.69 L543.54 115.12 L544.20 115.56 L544.87 116.00 L545.53 116.43 L546.20 116.87 L546.87 117.31 L547.53 117.74 L548.20 118.18 L548.86 118.62 L549.53 119.05 L550.20 119.49 L550.86 119.93 L551.53 120.37 L552.19 120.80 L552.86 121.24 L553.52 121.68 L554.19 122.11 L554.86 122.55 L555.52 122.98 L556.19 123.42 L556.85 123.85 L557.52 124.29 L558.19 124.72 L558.85 125.16 L559.52 125.59 L560.18 126.03 L560.85 126.46 L561.52 126.89 L562.18 127.33 L562.85 127.76 L563.51 128.19 L564.18 128.62 L564.85 129.05 L565.51 129.48 L566.18 129.91 L566.84 130.34 L567.51 130.77 L568.17 131.20 L568.84 131.62 L569.51 132.05 L570.17 132.47 L570.84 132.90 L571.50 133.32 L572.17 133.75 L572.84 134.17 L573.50 134.59 L574.17 135.01 L574.83 135.43 L575.50 135.85 L576.17 136.27 L576.83 136.69 L577.50 137.10 L578.16 137.52 L578.83 137.93 L579.50 138.34 L580.16 138.76 L580.83 139.17 L581.49 139.58 L582.16 139.99 L582.82 140.40 L583.49 140.80 L584.16 141.21 L584.82 141.62 L585.49 142.02 L586.15 142.43 L586.82 142.83 L587.49 143.23 L588.15 143.64 L588.82 144.04 L589.48 144.44 L590.15 144.84 L590.82 145.24 L591.48 145.64 L592.15 146.04 L592.81 146.43 L593.48 146.83 L594.15 147.23 L594.81 147.62 L595.48 148.02 L596.14 148.41 L596.81 148.81 L597.47 149.20 L598.14 149.59 L598.81 149.99 L599.47 150.38 L600.14 150.77 L600.80 151.16 L601.47 151.55 L602.14 151.94 L602.80 152.33 L603.47 152.72 L604.13 153.11 L604.80 153.50"/>
<path stroke="#ff0000" d="M429.00 170.55 L429.67 169.05 L430.33 167.56 L431.00 166.09 L431.66 164.63 L432.33 163.18 L433.00 161.74 L433.66 160.32 L434.33 158.91 L434.99 157.51 L435.66 156.13 L436.33 154.76 L436.99 153.40 L437.66 152.05 L438.32 150.72 L438.99 149.39 L439.66 148.08 L440.32 146.78 L440.99 145.50 L441.65 144.22 L442.32 142.96 L442.99 141.71 L443.65 140.47 L444.32 139.24 L444.98 138.03 L445.65 136.82 L446.32 135.63 L446.98 134.45 L447.65 133.28 L448.31 132.12 L448.98 130.97 L449.65 129.83 L450.31 128.70 L450.98 127.58 L451.64 126.48 L452.31 125.38 L452.98 124.30 L453.64 123.23 L454.31 122.16 L454.97 121.11 L455.64 120.07 L456.31 119.03 L456.97 118.01 L457.64 117.00 L458.30 115.99 L458.97 115.00 L459.64 114.02 L460.30 113.04 L460.97 112.08 L461.63 111.12 L462.30 110.18 L462.97 109.24 L463.63 108.32 L464.30 107.40 L464.97 106.49 L465.63 105.59 L466.30 104.70 L466.96 103.82 L467.63 102.95 L468.30 102.08 L468.96 101.23 L469.63 100.38 L470.29 99.54 L470.96 98.71 L471.63 97.89 L472.29 97.08 L472.96 96.27 L473.62 95.48 L474.29 94.69 L474.96 93.91 L475.62 93.13 L476.29 92.37 L476.95 91.61 L477.62 90.86 L478.29 90.12 L478.95 89.38 L479.62 88.66 L480.28 87.94 L480.95 87.22 L481.62 86.52 L482.28 85.82 L482.95 85.14 L483.61 84.46 L484.28 83.80 L484.95 83.15 L485.61 82.51 L486.28 81.88 L486.94 81.26 L487.61 80.66 L488.28 80.07 L488.94 79.50 L489.61 78.94 L490.27 78.40 L490.94 77.88 L491.61 77.37 L492.27 76.88 L492.94 76.41 L493.60 75.95 L494.27 75.52 L494.94 75.11 L495.60 74.71 L496.27 74.34 L496.93 73.99 L497.60 73.66 L498.27 73.36 L498.93 73.08 L499.60 72.82 L500.26 72.59 L500.93 72.38 L501.60 72.20 L502.26 72.04 L502.93 71.92 L503.59 71.82 L504.26 71.74 L504.93 71.70 L505.59 71.68 L506.26 71.70 L506.92 71.74 L507.59 71.81 L508.26 71.91 L508.92 72.03 L509.59 72.18 L510.25 72.36 L510.92 72.55 L511.59 72.77 L512.25 73.02 L512.92 73.28 L513.58 73.56 L514.25 73.86 L514.92 74.19 L515.58 74.52 L516.25 74.88 L516.91 75.25 L517.58 75.64 L518.25 76.04 L518.91 76.46 L519.58 76.89 L520.24 77.33 L520.91 77.78 L521.58 78.24 L522.24 78.71 L522.91 79.19 L523.57 79.68 L524.24 80.17 L524.91 80.67 L525.57 81.18 L526.24 81.69 L526.90 82.21 L527.57 82.74 L528.24 83.27 L528.90 83.81 L529.57 84.36 L530.23 84.91 L530.90 85.47 L531.57 86.04 L532.23 86.62 L532.90 87.20 L533.57 87.80 L534.23 88.40 L534.90 89.01 L535.56 89.62 L536.23 90.25 L536.90 90.88 L537.56 91.53 L538.23 92.18 L538.89 92.84 L539.56 93.51 L540.23 94.19 L540.89 94.88 L541.56 95.57 L542.22 96.28 L542.89 97.00 L543.56 97.73 L544.22 98.46 L544.89 99.21 L545.55 99.97 L546.22 100.73 L546.89 101.50 L547.55 102.28 L548.22 103.06 L548.88 103.85 L549.55 104.65 L550.22 105.45 L550.88 106.25 L551.55 107.06 L552.21 107.88 L552.88 108.69 L553.55 109.51 L554.21 110.33 L554.88 111.15 L555.54 111.97 L556.21 112.80 L556.88 113.62 L557.54 114.44 L558.21 115.26 L558.87 116.08 L559.54 116.90 L560.21 117.71 L560.87 118.52 L561.54 119.33 L562.20 120.13 L562.87 120.93 L563.54 121.72 L564.20 122.50 L564.87 123.27 L565.53 124.04 L566.20 124.80 L566.87 125.55 L567.53 126.29 L568.20 127.02 L568.86 127.74 L569.53 128.44 L570.20 129.14 L570.86 129.82 L571.53 130.49 L572.19 131.15 L572.86 131.79 L573.53 132.41 L574.19 133.02 L574.86 133.62 L575.52 134.19 L576.19 134.76 L576.86 135.30 L577.52 135.84 L578.19 136.36 L578.85 136.87 L579.52 137.37 L580.19 137.86 L580.85 138.34 L581.52 138.81 L582.18 139.27 L582.85 139.73 L583.52 140.18 L584.18 140.62 L584.85 141.06 L585.51 141.49 L586.18 141.93 L586.85 142.35 L587.51 142.78 L588.18 143.21 L588.84 143.63 L589.51 144.05 L590.18 144.48 L590.84 144.90 L591.51 145.32 L592.17 145.73 L592.84 146.15 L593.51 146.57 L594.17 146.98 L594.84 147.40 L595.50 147.81 L596.17 148.22 L596.84 148.63 L597.50 149.04 L598.17 149.45 L598.83 149.86 L599.50 150.28 L600.17 150.70 L600.83 151.12 L601.50 151.53 L602.17 151.94 L602.83 152.34 L603.50 152.74 L604.16 153.13 L604.83 153.52 L605.50 153.91 L606.16 154.30 L606.83 154.68 L607.49 155.07 L608.16 155.46 L608.83 155.85 L609.49 156.23 L610.16 156.62 L610.82 157.01 L611.49 157.40 L612.16 157.78 L612.82 158.17 L613.49 158.55 L614.15 158.94 L614.82 159.33 L615.49 159.71 L616.15 160.10 L616.82 160.49 L617.48 160.87 L618.15 161.26 L618.82 161.65 L619.48 162.03 L620.15 162.42 L620.81 162.80 L621.48 163.19 L622.15 163.58 L622.81 163.96 L623.48 164.35 L624.14 164.74 L624.81 165.12 L625.48 165.51 L626.14 165.90 L626.81 166.28 L627.47 166.67 L628.14 167.06 L628.81 167.45 L629.47 167.83 L630.14 168.22 L630.80 168.61 L631.47 169.00 L632.14 169.39 L632.80 169.77 L633.47 170.16 L634.13 170.55 L634.80 170.94"/>
<path stroke="#00ff00" d="M429.00 153.88 L429.67 152.27 L430.33 150.68 L431.00 149.12 L431.66 147.58 L432.33 146.07 L432.99 144.59 L433.66 143.13 L434.32 141.69 L434.99 140.28 L435.65 138.89 L436.32 137.53 L436.98 136.19 L437.65 134.87 L438.31 133.57 L438.98 132.30 L439.64 131.05 L440.31 129.82 L440.97 128.61 L441.64 127.42 L442.30 126.26 L442.97 125.11 L443.63 123.98 L444.30 122.88 L444.96 121.79 L445.63 120.72 L446.29 119.67 L446.96 118.64 L447.62 117.63 L448.29 116.63 L448.95 115.65 L449.62 114.69 L450.28 113.75 L450.95 112.82 L451.61 111.91 L452.28 111.02 L452.95 110.14 L453.61 109.27 L454.28 108.42 L454.94 107.59 L455.61 106.77 L456.27 105.96 L456.94 105.16 L457.60 104.38 L458.27 103.60 L458.93 102.84 L459.60 102.09 L460.26 101.34 L460.93 100.61 L461.59 99.88 L462.26 99.16 L462.92 98.45 L463.59 97.74 L464.25 97.04 L464.92 96.34 L465.58 95.65 L466.25 94.96 L466.91 94.28 L467.58 93.59 L468.24 92.91 L468.91 92.23 L469.57 91.54 L470.24 90.86 L470.90 90.18 L471.57 89.49 L472.23 88.81 L472.90 88.12 L473.56 87.42 L474.23 86.73 L474.89 86.02 L475.56 85.32 L476.23 84.60 L476.89 83.89 L477.56 83.16 L478.22 82.44 L478.89 81.71 L479.55 80.97 L480.22 80.23 L480.88 79.49 L481.55 78.74 L482.21 77.99 L482.88 77.23 L483.54 76.47 L484.21 75.70 L484.87 74.93 L485.54 74.16 L486.20 73.39 L486.87 72.61 L487.53 71.84 L488.20 71.07 L488.86 70.30 L489.53 69.54 L490.19 68.78 L490.86 68.03 L491.52 67.29 L492.19 66.56 L492.85 65.84 L493.52 65.13 L494.18 64.44 L494.85 63.76 L495.51 63.10 L496.18 62.46 L496.84 61.83 L497.51 61.23 L498.17 60.65 L498.84 60.09 L499.51 59.55 L500.17 59.04 L500.84 58.56 L501.50 58.10 L502.17 57.68 L502.83 57.28 L503.50 56.90 L504.16 56.56 L504.83 56.23 L505.49 55.94 L506.16 55.66 L506.82 55.41 L507.49 55.18 L508.15 54.97 L508.82 54.78 L509.48 54.61 L510.15 54.45 L510.81 54.32 L511.48 54.20 L512.14 54.10 L512.81 54.01 L513.47 53.94 L514.14 53.89 L514.80 53.84 L515.47 53.82 L516.13 53.81 L516.80 53.81 L517.46 53.83 L518.13 53.86 L518.79 53.91 L519.46 53.97 L520.12 54.05 L520.79 54.14 L521.45 54.24 L522.12 54.36 L522.79 54.50 L523.45 54.64 L524.12 54.80 L524.78 54.98 L525.45 55.17 L526.11 55.37 L526.78 55.59 L527.44 55.82 L528.11 56.07 L528.77 56.32 L529.44 56.59 L530.10 56.88 L530.77 57.18 L531.43 57.49 L532.10 57.82 L532.76 58.15 L533.43 58.50 L534.09 58.87 L534.76 59.25 L535.42 59.64 L536.09 60.04 L536.75 60.45 L537.42 60.88 L538.08 61.32 L538.75 61.78 L539.41 62.24 L540.08 62.72 L540.74 63.21 L541.41 63.72 L542.07 64.23 L542.74 64.76 L543.40 65.30 L544.07 65.85 L544.73 66.42 L545.40 66.99 L546.07 67.58 L546.73 68.18 L547.40 68.79 L548.06 69.41 L548.73 70.05 L549.39 70.69 L550.06 71.35 L550.72 72.02 L551.39 72.71 L552.05 73.40 L552.72 74.11 L553.38 74.83 L554.05 75.56 L554.71 76.31 L555.38 77.07 L556.04 77.84 L556.71 78.62 L557.37 79.41 L558.04 80.22 L558.70 81.04 L559.37 81.88 L560.03 82.73 L560.70 83.59 L561.36 84.46 L562.03 85.35 L562.69 86.25 L563.36 87.16 L564.02 88.09 L564.69 89.03 L565.35 89.98 L566.02 90.95 L566.68 91.93 L567.35 92.92 L568.01 93.93 L568.68 94.96 L569.35 95.99 L570.01 97.04 L570.68 98.11 L571.34 99.19 L572.01 100.28 L572.67 101.39 L573.34 102.51 L574.00 103.65 L574.67 104.80 L575.33 105.96 L576.00 107.14 L576.66 108.33 L577.33 109.54 L577.99 110.75 L578.66 111.98 L579.32 113.21 L579.99 114.45 L580.65 115.70 L581.32 116.95 L581.98 118.21 L582.65 119.46 L583.31 120.72 L583.98 121.98 L584.64 123.23 L585.31 124.48 L585.97 125.73 L586.64 126.97 L587.30 128.21 L587.97 129.44 L588.63 130.66 L589.30 131.86 L589.96 133.05 L590.63 134.23 L591.29 135.38 L591.96 136.50 L592.63 137.59 L593.29 138.64 L593.96 139.66 L594.62 140.64 L595.29 141.57 L595.95 142.46 L596.62 143.32 L597.28 144.14 L597.95 144.93 L598.61 145.69 L599.28 146.43 L599.94 147.14 L600.61 147.83 L601.27 148.51 L601.94 149.17 L602.60 149.80 L603.27 150.43 L603.93 151.03 L604.60 151.62 L605.26 152.20 L605.93 152.76 L606.59 153.31 L607.26 153.84 L607.92 154.36 L608.59 154.87 L609.25 155.36 L609.92 155.85 L610.58 156.33 L611.25 156.79 L611.91 157.25 L612.58 157.70 L613.24 158.14 L613.91 158.57 L614.57 158.99 L615.24 159.41 L615.91 159.83 L616.57 160.24 L617.24 160.64 L617.90 161.04 L618.57 161.44 L619.23 161.84 L619.90 162.23 L620.56 162.62 L621.23 163.01 L621.89 163.40 L622.56 163.80 L623.22 164.19 L623.89 164.58 L624.55 164.97 L625.22 165.35 L625.88 165.74 L626.55 166.13 L627.21 166.52 L627.88 166.91 L628.54 167.30 L629.21 167.69 L629.87 168.07 L630.54 168.46 L631.20 168.85 L631.87 169.23 L632.53 169.62 L633.20 170.01 L633.86 170.39 L634.53 170.78 L635.19 171.17 L635.86 171.56 L636.52 171.95 L637.19 172.33 L637.85 172.72 L638.52 173.11 L639.19 173.50 L639.85 173.89 L640.52 174.28 L641.18 174.67 L641.85 175.06 L642.51 175.45 L643.18 175.84 L643.84 176.23 L644.51 176.62 L645.17 177.01 L645.84 177.40 L646.50 177.79 L647.17 178.18 L647.83 178.58 L648.50 178.97 L649.16 179.36 L649.83 179.75 L650.49 180.14 L651.16 180.54 L651.82 180.93 L652.49 181.32 L653.15 181.72 L653.82 182.11 L654.48 182.51 L655.15 182.90 L655.81 183.29 L656.48 183.69 L657.14 184.08 L657.81 184.48 L658.47 184.88 L659.14 185.27 L659.80 185.67 L660.47 186.06 L661.13 186.46 L661.80 186.86"/>
<path stroke="#0000ff" d="M429.00 136.47 L429.67 135.66 L430.33 134.81 L431.00 133.94 L431.66 133.04 L432.33 132.12 L433.00 131.18 L433.66 130.22 L434.33 129.24 L435.00 128.25 L435.66 127.26 L436.33 126.26 L436.99 125.26 L437.66 124.26 L438.33 123.26 L438.99 122.27 L439.66 121.29 L440.32 120.33 L440.99 119.38 L441.66 118.44 L442.32 117.52 L442.99 116.62 L443.65 115.73 L444.32 114.86 L444.99 114.00 L445.65 113.16 L446.32 112.32 L446.99 111.50 L447.65 110.69 L448.32 109.89 L448.98 109.10 L449.65 108.32 L450.32 107.55 L450.98 106.78 L451.65 106.03 L452.31 105.28 L452.98 104.54 L453.65 103.80 L454.31 103.07 L454.98 102.35 L455.64 101.63 L456.31 100.91 L456.98 100.19 L457.64 99.48 L458.31 98.77 L458.98 98.07 L459.64 97.36 L460.31 96.65 L460.97 95.94 L461.64 95.23 L462.31 94.52 L462.97 93.81 L463.64 93.10 L464.30 92.38 L464.97 91.66 L465.64 90.93 L466.30 90.20 L466.97 89.47 L467.63 88.74 L468.30 88.00 L468.97 87.26 L469.63 86.51 L470.30 85.77 L470.97 85.02 L471.63 84.27 L472.30 83.52 L472.96 82.77 L473.63 82.02 L474.30 81.26 L474.96 80.51 L475.63 79.75 L476.29 79.00 L476.96 78.24 L477.63 77.48 L478.29 76.72 L478.96 75.97 L479.63 75.21 L480.29 74.45 L480.96 73.70 L481.62 72.94 L482.29 72.19 L482.96 71.44 L483.62 70.69 L484.29 69.94 L484.95 69.19 L485.62 68.44 L486.29 67.70 L486.95 66.96 L487.62 66.22 L488.28 65.48 L488.95 64.75 L489.62 64.02 L490.28 63.29 L490.95 62.57 L491.62 61.85 L492.28 61.13 L492.95 60.42 L493.61 59.72 L494.28 59.02 L494.95 58.33 L495.61 57.64 L496.28 56.96 L496.94 56.30 L497.61 55.63 L498.28 54.98 L498.94 54.34 L499.61 53.71 L500.27 53.09 L500.94 52.48 L501.61 51.88 L502.27 51.30 L502.94 50.73 L503.61 50.17 L504.27 49.63 L504.94 49.10 L505.60 48.59 L506.27 48.09 L506.94 47.61 L507.60 47.14 L508.27 46.70 L508.93 46.27 L509.60 45.86 L510.27 45.47 L510.93 45.10 L511.60 44.74 L512.27 44.41 L512.93 44.10 L513.60 43.82 L514.26 43.55 L514.93 43.31 L515.60 43.09 L516.26 42.90 L516.93 42.72 L517.59 42.57 L518.26 42.44 L518.93 42.33 L519.59 42.25 L520.26 42.18 L520.92 42.12 L521.59 42.09 L522.26 42.07 L522.92 42.07 L523.59 42.09 L524.26 42.12 L524.92 42.17 L525.59 42.23 L526.25 42.30 L526.92 42.38 L527.59 42.48 L528.25 42.58 L528.92 42.70 L529.58 42.82 L530.25 42.96 L530.92 43.10 L531.58 43.25 L532.25 43.40 L532.91 43.56 L533.58 43.73 L534.25 43.90 L534.91 44.08 L535.58 44.27 L536.25 44.46 L536.91 44.66 L537.58 44.87 L538.24 45.09 L538.91 45.31 L539.58 45.55 L540.24 45.80 L540.91 46.06 L541.57 46.33 L542.24 46.61 L542.91 46.90 L543.57 47.21 L544.24 47.53 L544.90 47.87 L545.57 48.22 L546.24 48.59 L546.90 48.97 L547.57 49.37 L548.24 49.78 L548.90 50.21 L549.57 50.66 L550.23 51.12 L550.90 51.60 L551.57 52.10 L552.23 52.61 L552.90 53.13 L553.56 53.66 L554.23 54.21 L554.90 54.78 L555.56 55.35 L556.23 55.94 L556.90 56.53 L557.56 57.14 L558.23 57.76 L558.89 58.39 L559.56 59.03 L560.23 59.68 L560.89 60.33 L561.56 61.00 L562.22 61.67 L562.89 62.35 L563.56 63.03 L564.22 63.73 L564.89 64.43 L565.55 65.13 L566.22 65.84 L566.89 66.55 L567.55 67.27 L568.22 68.00 L568.89 68.72 L569.55 69.45 L570.22 70.18 L570.88 70.92 L571.55 71.65 L572.22 72.39 L572.88 73.13 L573.55 73.88 L574.21 74.63 L574.88 75.39 L575.55 76.16 L576.21 76.93 L576.88 77.72 L577.54 78.52 L578.21 79.33 L578.88 80.16 L579.54 81.00 L580.21 81.85 L580.88 82.73 L581.54 83.62 L582.21 84.53 L582.87 85.46 L583.54 86.42 L584.21 87.39 L584.87 88.39 L585.54 89.41 L586.20 90.46 L586.87 91.54 L587.54 92.65 L588.20 93.78 L588.87 94.94 L589.53 96.12 L590.20 97.34 L590.87 98.57 L591.53 99.83 L592.20 101.12 L592.87 102.43 L593.53 103.76 L594.20 105.11 L594.86 106.48 L595.53 107.88 L596.20 109.29 L596.86 110.73 L597.53 112.18 L598.19 113.65 L598.86 115.14 L599.53 116.64 L600.19 118.17 L600.86 119.70 L601.53 121.25 L602.19 122.82 L602.86 124.38 L603.52 125.96 L604.19 127.53 L604.86 129.10 L605.52 130.66 L606.19 132.21 L606.85 133.75 L607.52 135.27 L608.19 136.76 L608.85 138.23 L609.52 139.67 L610.18 141.08 L610.85 142.45 L611.52 143.79 L612.18 145.08 L612.85 146.35 L613.52 147.57 L614.18 148.76 L614.85 149.91 L615.51 151.03 L616.18 152.12 L616.85 153.17 L617.51 154.19 L618.18 155.18 L618.84 156.14 L619.51 157.06 L620.18 157.95 L620.84 158.82 L621.51 159.65 L622.17 160.46 L622.84 161.24 L623.51 161.99 L624.17 162.71 L624.84 163.40 L625.51 164.07 L626.17 164.71 L626.84 165.33 L627.50 165.92 L628.17 166.50 L628.84 167.05 L629.50 167.58 L630.17 168.09 L630.83 168.59 L631.50 169.06 L632.17 169.53 L632.83 169.98 L633.50 170.41 L634.17 170.84 L634.83 171.25 L635.50 171.65 L636.16 172.05 L636.83 172.44 L637.50 172.82 L638.16 173.20 L638.83 173.57 L639.49 173.94 L640.16 174.31 L640.83 174.68 L641.49 175.06 L642.16 175.43 L642.82 175.80 L643.49 176.17 L644.16 176.55 L644.82 176.93 L645.49 177.30 L646.16 177.68 L646.82 178.06 L647.49 178.44 L648.15 178.82 L648.82 179.20 L649.49 179.59 L650.15 179.97 L650.82 180.35 L651.48 180.74 L652.15 181.13 L652.82 181.51 L653.48 181.90 L654.15 182.29 L654.81 182.68 L655.48 183.07 L656.15 183.46 L656.81 183.86 L657.48 184.26 L658.15 184.66 L658.81 185.06 L659.48 185.47 L660.14 185.87 L660.81 186.27 L661.48 186.67 L662.14 187.06 L662.81 187.46 L663.47 187.86 L664.14 188.26 L664.81 188.66 L665.47 189.06 L666.14 189.46 L666.80 189.86 L667.47 190.26 L668.14 190.66 L668.80 191.06 L669.47 191.46 L670.14 191.86 L670.80 192.26 L671.47 192.66 L672.13 193.06 L672.80 193.46"/>
<path stroke="#ff00ff" d="M429.00 123.16 L429.67 122.42 L430.33 121.68 L431.00 120.94 L431.66 120.20 L432.33 119.45 L432.99 118.70 L433.66 117.95 L434.32 117.20 L434.99 116.45 L435.66 115.69 L436.32 114.93 L436.99 114.17 L437.65 113.41 L438.32 112.64 L438.98 111.88 L439.65 111.11 L440.31 110.34 L440.98 109.57 L441.65 108.80 L442.31 108.03 L442.98 107.25 L443.64 106.48 L444.31 105.70 L444.97 104.92 L445.64 104.15 L446.30 103.37 L446.97 102.59 L447.64 101.81 L448.30 101.03 L448.97 100.25 L449.63 99.47 L450.30 98.69 L450.96 97.91 L451.63 97.12 L452.29 96.34 L452.96 95.56 L453.63 94.78 L454.29 94.00 L454.96 93.22 L455.62 92.44 L456.29 91.66 L456.95 90.88 L457.62 90.10 L458.28 89.32 L458.95 88.54 L459.62 87.77 L460.28 86.99 L460.95 86.21 L461.61 85.44 L462.28 84.67 L462.94 83.90 L463.61 83.13 L464.27 82.36 L464.94 81.59 L465.61 80.82 L466.27 80.06 L466.94 79.30 L467.60 78.53 L468.27 77.77 L468.93 77.01 L469.60 76.25 L470.26 75.49 L470.93 74.73 L471.60 73.98 L472.26 73.22 L472.93 72.47 L473.59 71.71 L474.26 70.96 L474.92 70.20 L475.59 69.45 L476.25 68.70 L476.92 67.94 L477.59 67.19 L478.25 66.44 L478.92 65.69 L479.58 64.93 L480.25 64.18 L480.91 63.43 L481.58 62.68 L482.24 61.93 L482.91 61.18 L483.57 60.43 L484.24 59.67 L484.91 58.92 L485.57 58.17 L486.24 57.42 L486.90 56.68 L487.57 55.93 L488.23 55.18 L488.90 54.44 L489.56 53.70 L490.23 52.95 L490.90 52.21 L491.56 51.48 L492.23 50.74 L492.89 50.00 L493.56 49.27 L494.22 48.54 L494.89 47.82 L495.55 47.09 L496.22 46.37 L496.89 45.65 L497.55 44.94 L498.22 44.23 L498.88 43.52 L499.55 42.82 L500.21 42.13 L500.88 41.45 L501.54 40.77 L502.21 40.10 L502.88 39.45 L503.54 38.80 L504.21 38.16 L504.87 37.53 L505.54 36.92 L506.20 36.32 L506.87 35.73 L507.53 35.15 L508.20 34.59 L508.87 34.05 L509.53 33.52 L510.20 33.01 L510.86 32.51 L511.53 32.04 L512.19 31.58 L512.86 31.14 L513.52 30.72 L514.19 30.32 L514.86 29.93 L515.52 29.57 L516.19 29.22 L516.85 28.89 L517.52 28.57 L518.18 28.27 L518.85 27.99 L519.51 27.72 L520.18 27.47 L520.85 27.23 L521.51 27.01 L522.18 26.80 L522.84 26.60 L523.51 26.42 L524.17 26.25 L524.84 26.09 L525.50 25.94 L526.17 25.81 L526.84 25.68 L527.50 25.56 L528.17 25.46 L528.83 25.36 L529.50 25.28 L530.16 25.20 L530.83 25.13 L531.49 25.07 L532.16 25.01 L532.83 24.97 L533.49 24.93 L534.16 24.89 L534.82 24.86 L535.49 24.84 L536.15 24.83 L536.82 24.82 L537.48 24.82 L538.15 24.83 L538.82 24.84 L539.48 24.86 L540.15 24.89 L540.81 24.93 L541.48 24.97 L542.14 25.02 L542.81 25.07 L543.47 25.14 L544.14 25.21 L544.81 25.28 L545.47 25.37 L546.14 25.46 L546.80 25.56 L547.47 25.67 L548.13 25.78 L548.80 25.91 L549.46 26.04 L550.13 26.17 L550.80 26.32 L551.46 26.47 L552.13 26.63 L552.79 26.80 L553.46 26.98 L554.12 27.16 L554.79 27.35 L555.45 27.55 L556.12 27.76 L556.79 27.98 L557.45 28.20 L558.12 28.43 L558.78 28.67 L559.45 28.92 L560.11 29.18 L560.78 29.44 L561.44 29.72 L562.11 30.00 L562.78 30.29 L563.44 30.59 L564.11 30.89 L564.77 31.21 L565.44 31.53 L566.10 31.87 L566.77 32.21 L567.43 32.56 L568.10 32.92 L568.77 33.28 L569.43 33.66 L570.10 34.04 L570.76 34.44 L571.43 34.84 L572.09 35.25 L572.76 35.67 L573.42 36.10 L574.09 36.54 L574.76 36.99 L575.42 37.45 L576.09 37.91 L576.75 38.39 L577.42 38.88 L578.08 39.37 L578.75 39.87 L579.41 40.39 L580.08 40.91 L580.74 41.45 L581.41 41.99 L582.08 42.55 L582.74 43.11 L583.41 43.69 L584.07 44.27 L584.74 44.87 L585.40 45.48 L586.07 46.10 L586.73 46.73 L587.40 47.37 L588.07 48.02 L588.73 48.69 L589.40 49.36 L590.06 50.05 L590.73 50.75 L591.39 51.46 L592.06 52.19 L592.72 52.92 L593.39 53.67 L594.06 54.43 L594.72 55.20 L595.39 55.99 L596.05 56.79 L596.72 57.60 L597.38 58.43 L598.05 59.26 L598.71 60.12 L599.38 60.98 L600.05 61.86 L600.71 62.75 L601.38 63.66 L602.04 64.58 L602.71 65.51 L603.37 66.46 L604.04 67.42 L604.70 68.40 L605.37 69.39 L606.04 70.40 L606.70 71.42 L607.37 72.46 L608.03 73.51 L608.70 74.57 L609.36 75.66 L610.03 76.76 L610.69 77.87 L611.36 79.00 L612.03 80.15 L612.69 81.32 L613.36 82.50 L614.02 83.70 L614.69 84.92 L615.35 86.16 L616.02 87.42 L616.68 88.70 L617.35 89.99 L618.02 91.31 L618.68 92.65 L619.35 94.00 L620.01 95.38 L620.68 96.78 L621.34 98.20 L622.01 99.64 L622.67 101.10 L623.34 102.59 L624.01 104.10 L624.67 105.63 L625.34 107.18 L626.00 108.76 L626.67 110.36 L627.33 111.98 L628.00 113.63 L628.66 115.31 L629.33 117.01 L630.00 118.73 L630.66 120.48 L631.33 122.26 L631.99 124.06 L632.66 125.89 L633.32 127.75 L633.99 129.63 L634.65 131.53 L635.32 133.44 L635.99 135.37 L636.65 137.31 L637.32 139.24 L637.98 141.18 L638.65 143.11 L639.31 145.02 L639.98 146.93 L640.64 148.81 L641.31 150.67 L641.98 152.49 L642.64 154.29 L643.31 156.05 L643.97 157.76 L644.64 159.43 L645.30 161.04 L645.97 162.61 L646.63 164.12 L647.30 165.57 L647.97 166.98 L648.63 168.33 L649.30 169.64 L649.96 170.90 L650.63 172.11 L651.29 173.27 L651.96 174.39 L652.62 175.47 L653.29 176.50 L653.96 177.49 L654.62 178.43 L655.29 179.34 L655.95 180.21 L656.62 181.04 L657.28 181.83 L657.95 182.58 L658.61 183.31 L659.28 183.99 L659.95 184.65 L660.61 185.27 L661.28 185.87 L661.94 186.44 L662.61 186.99 L663.27 187.52 L663.94 188.02 L664.60 188.49 L665.27 188.94 L665.94 189.37 L666.60 189.78 L667.27 190.18 L667.93 190.57 L668.60 190.96 L669.26 191.34 L669.93 191.74 L670.59 192.13 L671.26 192.53 L671.93 192.93 L672.59 193.33 L673.26 193.73 L673.92 194.14 L674.59 194.54 L675.25 194.94 L675.92 195.34 L676.58 195.74 L677.25 196.14 L677.91 196.54 L678.58 196.94 L679.25 197.34 L679.91 197.75 L680.58 198.15 L681.24 198.55 L681.91 198.95 L682.57 199.35 L683.24 199.75 L683.90 200.15 L684.57 200.55 L685.24 200.95 L685.90 201.35 L686.57 201.76 L687.23 202.16 L687.90 202.56 L688.56 202.96 L689.23 203.36 L689.89 203.76 L690.56 204.16 L691.23 204.56 L691.89 204.96 L692.56 205.35 L693.22 205.75 L693.89 206.15 L694.55 206.55 L695.22 206.95 L695.88 207.35 L696.55 207.75 L697.22 208.14 L697.88 208.54 L698.55 208.94 L699.21 209.33 L699.88 209.73 L700.54 210.13 L701.21 210.52 L701.87 210.92 L702.54 211.31 L703.21 211.71 L703.87 212.10 L704.54 212.49 L705.20 212.89 L705.87 213.28 L706.53 213.67 L707.20 214.07 L707.86 214.46 L708.53 214.85 L709.20 215.24 L709.86 215.63 L710.53 216.02 L711.19 216.41 L711.86 216.80 L712.52 217.19 L713.19 217.57 L713.85 217.96 L714.52 218.35 L715.19 218.73 L715.85 219.12 L716.52 219.51 L717.18 219.89 L717.85 220.27 L718.51 220.66 L719.18 221.04 L719.84 221.42 L720.51 221.80 L721.18 222.18 L721.84 222.56 L722.51 222.94 L723.17 223.32 L723.84 223.70 L724.50 224.08 L725.17 224.45 L725.83 224.83 L726.50 225.21"/>
</g>
<rect x="430.0" y="7.4" width="296.00" height="238.40" fill="none" stroke="#000" stroke-width="1.1"/>
<path d="M430.00 245.80v-4.5M430.00 7.40v4.5M447.82 245.80v-2.5M447.82 7.40v2.5M458.25 245.80v-2.5M458.25 7.40v2.5M465.64 245.80v-2.5M465.64 7.40v2.5M471.38 245.80v-2.5M471.38 7.40v2.5M476.07 245.80v-2.5M476.07 7.40v2.5M480.03 245.80v-2.5M480.03 7.40v2.5M483.46 245.80v-2.5M483.46 7.40v2.5M486.49 245.80v-2.5M486.49 7.40v2.5M489.20 245.80v-4.5M489.20 7.40v4.5M507.02 245.80v-2.5M507.02 7.40v2.5M517.45 245.80v-2.5M517.45 7.40v2.5M524.84 245.80v-2.5M524.84 7.40v2.5M530.58 245.80v-2.5M530.58 7.40v2.5M535.27 245.80v-2.5M535.27 7.40v2.5M539.23 245.80v-2.5M539.23 7.40v2.5M542.66 245.80v-2.5M542.66 7.40v2.5M545.69 245.80v-2.5M545.69 7.40v2.5M548.40 245.80v-4.5M548.40 7.40v4.5M566.22 245.80v-2.5M566.22 7.40v2.5M576.65 245.80v-2.5M576.65 7.40v2.5M584.04 245.80v-2.5M584.04 7.40v2.5M589.78 245.80v-2.5M589.78 7.40v2.5M594.47 245.80v-2.5M594.47 7.40v2.5M598.43 245.80v-2.5M598.43 7.40v2.5M601.86 245.80v-2.5M601.86 7.40v2.5M604.89 245.80v-2.5M604.89 7.40v2.5M607.60 245.80v-4.5M607.60 7.40v4.5M625.42 245.80v-2.5M625.42 7.40v2.5M635.85 245.80v-2.5M635.85 7.40v2.5M643.24 245.80v-2.5M643.24 7.40v2.5M648.98 245.80v-2.5M648.98 7.40v2.5M653.67 245.80v-2.5M653.67 7.40v2.5M657.63 245.80v-2.5M657.63 7.40v2.5M661.06 245.80v-2.5M661.06 7.40v2.5M664.09 245.80v-2.5M664.09 7.40v2.5M666.80 245.80v-4.5M666.80 7.40v4.5M684.62 245.80v-2.5M684.62 7.40v2.5M695.05 245.80v-2.5M695.05 7.40v2.5M702.44 245.80v-2.5M702.44 7.40v2.5M708.18 245.80v-2.5M708.18 7.40v2.5M712.87 245.80v-2.5M712.87 7.40v2.5M716.83 245.80v-2.5M716.83 7.40v2.5M720.26 245.80v-2.5M720.26 7.40v2.5M723.29 245.80v-2.5M723.29 7.40v2.5M726.00 245.80v-4.5M726.00 7.40v4.5M430.00 245.80h4.5M726.00 245.80h-4.5M430.00 235.55h2.5M726.00 235.55h-2.5M430.00 229.55h2.5M726.00 229.55h-2.5M430.00 225.30h2.5M726.00 225.30h-2.5M430.00 222.00h2.5M726.00 222.00h-2.5M430.00 219.30h2.5M726.00 219.30h-2.5M430.00 217.02h2.5M726.00 217.02h-2.5M430.00 215.04h2.5M726.00 215.04h-2.5M430.00 213.30h2.5M726.00 213.30h-2.5M430.00 211.74h4.5M726.00 211.74h-4.5M430.00 201.49h2.5M726.00 201.49h-2.5M430.00 195.49h2.5M726.00 195.49h-2.5M430.00 191.24h2.5M726.00 191.24h-2.5M430.00 187.94h2.5M726.00 187.94h-2.5M430.00 185.24h2.5M726.00 185.24h-2.5M430.00 182.96h2.5M726.00 182.96h-2.5M430.00 180.99h2.5M726.00 180.99h-2.5M430.00 179.24h2.5M726.00 179.24h-2.5M430.00 177.69h4.5M726.00 177.69h-4.5M430.00 167.43h2.5M726.00 167.43h-2.5M430.00 161.44h2.5M726.00 161.44h-2.5M430.00 157.18h2.5M726.00 157.18h-2.5M430.00 153.88h2.5M726.00 153.88h-2.5M430.00 151.18h2.5M726.00 151.18h-2.5M430.00 148.90h2.5M726.00 148.90h-2.5M430.00 146.93h2.5M726.00 146.93h-2.5M430.00 145.19h2.5M726.00 145.19h-2.5M430.00 143.63h4.5M726.00 143.63h-4.5M430.00 133.38h2.5M726.00 133.38h-2.5M430.00 127.38h2.5M726.00 127.38h-2.5M430.00 123.12h2.5M726.00 123.12h-2.5M430.00 119.82h2.5M726.00 119.82h-2.5M430.00 117.13h2.5M726.00 117.13h-2.5M430.00 114.85h2.5M726.00 114.85h-2.5M430.00 112.87h2.5M726.00 112.87h-2.5M430.00 111.13h2.5M726.00 111.13h-2.5M430.00 109.57h4.5M726.00 109.57h-4.5M430.00 99.32h2.5M726.00 99.32h-2.5M430.00 93.32h2.5M726.00 93.32h-2.5M430.00 89.07h2.5M726.00 89.07h-2.5M430.00 85.77h2.5M726.00 85.77h-2.5M430.00 83.07h2.5M726.00 83.07h-2.5M430.00 80.79h2.5M726.00 80.79h-2.5M430.00 78.81h2.5M726.00 78.81h-2.5M430.00 77.07h2.5M726.00 77.07h-2.5M430.00 75.51h4.5M726.00 75.51h-4.5M430.00 65.26h2.5M726.00 65.26h-2.5M430.00 59.26h2.5M726.00 59.26h-2.5M430.00 55.01h2.5M726.00 55.01h-2.5M430.00 51.71h2.5M726.00 51.71h-2.5M430.00 49.01h2.5M726.00 49.01h-2.5M430.00 46.73h2.5M726.00 46.73h-2.5M430.00 44.76h2.5M726.00 44.76h-2.5M430.00 43.02h2.5M726.00 43.02h-2.5M430.00 41.46h4.5M726.00 41.46h-4.5M430.00 31.20h2.5M726.00 31.20h-2.5M430.00 25.21h2.5M726.00 25.21h-2.5M430.00 20.95h2.5M726.00 20.95h-2.5M430.00 17.65h2.5M726.00 17.65h-2.5M430.00 14.96h2.5M726.00 14.96h-2.5M430.00 12.68h2.5M726.00 12.68h-2.5M430.00 10.70h2.5M726.00 10.70h-2.5M430.00 8.96h2.5M726.00 8.96h-2.5M430.00 7.40h4.5M726.00 7.40h-4.5" stroke="#000" stroke-width="1" fill="none"/>
<text x="47" y="12.00" font-size="13" text-anchor="end">10<tspan font-size="8" dy="-6">9</tspan></text>
<text x="47" y="59.76" font-size="13" text-anchor="end">10<tspan font-size="8" dy="-6">7</tspan></text>
<text x="47" y="107.52" font-size="13" text-anchor="end">10<tspan font-size="8" dy="-6">5</tspan></text>
<text x="47" y="155.28" font-size="13" text-anchor="end">10<tspan font-size="8" dy="-6">3</tspan></text>
<text x="47" y="203.04" font-size="13" text-anchor="end">10<tspan font-size="8" dy="-6">1</tspan></text>
<text x="47" y="250.80" font-size="13" text-anchor="end">10<tspan font-size="8" dy="-6">-1</tspan></text>
<text x="121.10" y="261.3" font-size="13" text-anchor="middle">100</text>
<text x="219.66" y="261.3" font-size="13" text-anchor="middle">1000</text>
<text x="318.23" y="261.3" font-size="13" text-anchor="middle">10000</text>
<text x="424.5" y="12.00" font-size="13" text-anchor="end">10<tspan font-size="8" dy="-6">-4</tspan></text>
<text x="424.5" y="46.06" font-size="13" text-anchor="end">10<tspan font-size="8" dy="-6">-5</tspan></text>
<text x="424.5" y="80.11" font-size="13" text-anchor="end">10<tspan font-size="8" dy="-6">-6</tspan></text>
<text x="424.5" y="114.17" font-size="13" text-anchor="end">10<tspan font-size="8" dy="-6">-7</tspan></text>
<text x="424.5" y="148.23" font-size="13" text-anchor="end">10<tspan font-size="8" dy="-6">-8</tspan></text>
<text x="424.5" y="182.29" font-size="13" text-anchor="end">10<tspan font-size="8" dy="-6">-9</tspan></text>
<text x="424.5" y="216.34" font-size="13" text-anchor="end">10<tspan font-size="8" dy="-6">-10</tspan></text>
<text x="424.5" y="250.40" font-size="13" text-anchor="end">10<tspan font-size="8" dy="-6">-11</tspan></text>
<text x="430.00" y="263.3" font-size="13" text-anchor="middle">10<tspan font-size="8" dy="-6">-1</tspan></text>
<text x="489.20" y="263.3" font-size="13" text-anchor="middle">10<tspan font-size="8" dy="-6">0</tspan></text>
<text x="548.40" y="263.3" font-size="13" text-anchor="middle">10<tspan font-size="8" dy="-6">1</tspan></text>
<text x="607.60" y="263.3" font-size="13" text-anchor="middle">10<tspan font-size="8" dy="-6">2</tspan></text>
<text x="666.80" y="263.3" font-size="13" text-anchor="middle">10<tspan font-size="8" dy="-6">3</tspan></text>
<text x="726.00" y="263.3" font-size="13" text-anchor="middle">10<tspan font-size="8" dy="-6">4</tspan></text>
<line x1="260.3" x2="287.3" y1="22.50" y2="22.50" stroke="#000000" stroke-width="2"/>
<text x="289.5" y="26.40" font-size="11.5">ν<tspan font-size="7.5" dy="3.6">0</tspan><tspan dy="-3.6">=ν</tspan><tspan font-size="7.5" dy="3.6">a</tspan></text>
<line x1="260.3" x2="287.3" y1="40.90" y2="40.90" stroke="#ff0000" stroke-width="2"/>
<text x="289.5" y="44.80" font-size="11.5">ν<tspan font-size="7.5" dy="3.6">0</tspan><tspan dy="-3.6">=0.5ν</tspan><tspan font-size="7.5" dy="3.6">a</tspan></text>
<line x1="260.3" x2="287.3" y1="59.30" y2="59.30" stroke="#00ff00" stroke-width="2"/>
<text x="289.5" y="63.20" font-size="11.5">ν<tspan font-size="7.5" dy="3.6">0</tspan><tspan dy="-3.6">=0.3ν</tspan><tspan font-size="7.5" dy="3.6">a</tspan></text>
<line x1="260.3" x2="287.3" y1="77.70" y2="77.70" stroke="#0000ff" stroke-width="2"/>
<text x="289.5" y="81.60" font-size="11.5">ν<tspan font-size="7.5" dy="3.6">0</tspan><tspan dy="-3.6">=0.2ν</tspan><tspan font-size="7.5" dy="3.6">a</tspan></text>
<line x1="260.3" x2="287.3" y1="96.10" y2="96.10" stroke="#ff00ff" stroke-width="2"/>
<text x="289.5" y="100.00" font-size="11.5">ν<tspan font-size="7.5" dy="3.6">0</tspan><tspan dy="-3.6">=0.1ν</tspan><tspan font-size="7.5" dy="3.6">a</tspan></text>
<line x1="486.6" x2="513.6" y1="145.00" y2="145.00" stroke="#000000" stroke-width="2"/>
<text x="516.0" y="148.90" font-size="11.5">ν<tspan font-size="7.5" dy="3.6">0</tspan><tspan dy="-3.6">=ν</tspan><tspan font-size="7.5" dy="3.6">a</tspan></text>
<line x1="486.6" x2="513.6" y1="163.40" y2="163.40" stroke="#ff0000" stroke-width="2"/>
<text x="516.0" y="167.30" font-size="11.5">ν<tspan font-size="7.5" dy="3.6">0</tspan><tspan dy="-3.6">=0.5ν</tspan><tspan font-size="7.5" dy="3.6">a</tspan></text>
<line x1="486.6" x2="513.6" y1="181.80" y2="181.80" stroke="#00ff00" stroke-width="2"/>
<text x="516.0" y="185.70" font-size="11.5">ν<tspan font-size="7.5" dy="3.6">0</tspan><tspan dy="-3.6">=0.3ν</tspan><tspan font-size="7.5" dy="3.6">a</tspan></text>
<line x1="486.6" x2="513.6" y1="200.20" y2="200.20" stroke="#0000ff" stroke-width="2"/>
<text x="516.0" y="204.10" font-size="11.5">ν<tspan font-size="7.5" dy="3.6">0</tspan><tspan dy="-3.6">=0.2ν</tspan><tspan font-size="7.5" dy="3.6">a</tspan></text>
<line x1="486.6" x2="513.6" y1="218.60" y2="218.60" stroke="#ff00ff" stroke-width="2"/>
<text x="516.0" y="222.50" font-size="11.5">ν<tspan font-size="7.5" dy="3.6">0</tspan><tspan dy="-3.6">=0.1ν</tspan><tspan font-size="7.5" dy="3.6">a</tspan></text>
<path d="M196.3,274.9 C196.9,273.3 198.3,273.2 198.9,275.2 L200.2,280.0 M203.6,273.3 L200.2,280.0 C199.7,281.2 199.5,282.6 199.7,284.0" fill="none" stroke="#000" stroke-width="1.15" stroke-linecap="round"/>
<text x="195" y="307.6" font-size="18.4" text-anchor="middle" style="font-family:'Liberation Serif'">(a)</text>
<text x="578" y="283" font-size="14.5" text-anchor="middle">ν/ν<tspan font-size="9" dy="5.2">a</tspan></text>
<text x="585.5" y="307.6" font-size="18.4" text-anchor="middle" style="font-family:'Liberation Serif'">(b)</text>
<text transform="translate(13.6,151.2) rotate(-90)" font-size="15.2">N<tspan dx="0.8">(</tspan><tspan style="fill:none;stroke:none">γ</tspan><tspan dx="-1.7">)</tspan>/cm<tspan font-size="9" dy="-7.5">-3</tspan></text>
<path transform="translate(13.6,151.2) rotate(-90) translate(16.6,0)" d="M0,-4.6 C0.55,-6.1 1.8,-6.2 2.35,-4.4 L3.5,-0.2 M6.4,-6.1 L3.5,-0.2 C3.05,0.9 2.9,2.0 3.05,3.1" fill="none" stroke="#000" stroke-width="1.05" stroke-linecap="round"/>
<text transform="translate(386.2,201.6) rotate(-90)" font-size="15.45">I<tspan font-size="8.5" dy="5">ν</tspan><tspan dy="-5">/(ergs s</tspan><tspan font-size="9" dy="-8.5">-1</tspan><tspan dy="8.5"> cm</tspan><tspan font-size="9" dy="-8.5">-2</tspan><tspan dy="8.5"> str</tspan><tspan font-size="9" dy="-8.5">-1</tspan><tspan dy="8.5"> Hz</tspan><tspan font-size="9" dy="-8.5">-1</tspan><tspan dy="8.5">)</tspan></text>
</svg></body></html>
